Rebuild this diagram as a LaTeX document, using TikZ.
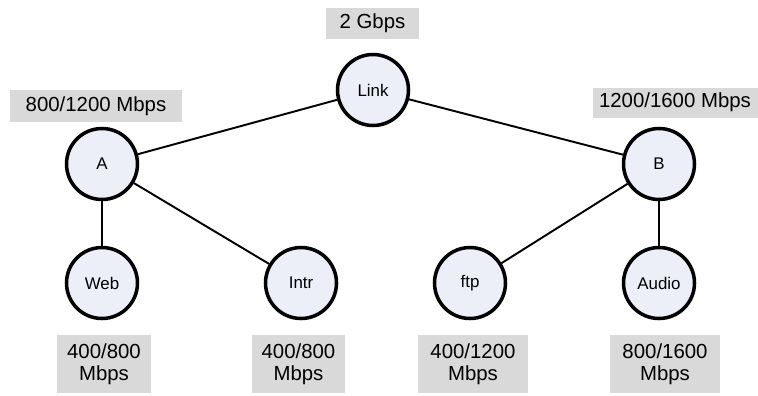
\documentclass[tikz,border=0pt]{standalone}
\usepackage{fontspec}
\setmainfont{Liberation Sans}
\definecolor{nodefill}{HTML}{ECEEF8}
\definecolor{labelgray}{HTML}{D9D9D9}
\begin{document}
\begin{tikzpicture}[
    hostnode/.style={circle, draw=black, line width=2pt, fill=nodefill, minimum size=1.42cm, inner sep=0pt, font=\fontsize{9.6}{11}\selectfont},
    ratebox/.style={rectangle, fill=labelgray, inner sep=0pt, align=center, font=\fontsize{11.6}{12.8}\selectfont},
    linkline/.style={line width=1.1pt},
]
\useasboundingbox (0,0) rectangle (15.16,7.9);

\node[ratebox, minimum width=1.86cm, minimum height=0.62cm] (rtop) at (7.45,7.43) {2 Gbps};
\node[ratebox, minimum width=3.44cm, minimum height=0.64cm] (ra) at (1.92,5.78) {800/1200 Mbps};
\node[ratebox, minimum width=3.3cm, minimum height=0.6cm] (rb) at (13.5,5.85) {1200/1600 Mbps};

\node[hostnode] (link) at (7.46,6.1) {Link};
\node[hostnode] (a) at (2.04,4.62) {A};
\node[hostnode] (b) at (13.18,4.62) {B};
\node[hostnode] (web) at (2.04,2.24) {Web};
\node[hostnode] (intr) at (6.02,2.24) {Intr};
\node[hostnode] (ftp) at (9.40,2.24) {ftp};
\node[hostnode] (audio) at (13.18,2.24) {Audio};

\draw[linkline] (link) -- (a);
\draw[linkline] (link) -- (b);
\draw[linkline] (a) -- (web);
\draw[linkline] (a) -- (intr);
\draw[linkline] (b) -- (ftp);
\draw[linkline] (b) -- (audio);

\node[ratebox, minimum width=1.88cm, minimum height=1.16cm] (rweb) at (2.08,0.62) {400/800\\Mbps};
\node[ratebox, minimum width=1.86cm, minimum height=1.16cm] (rintr) at (5.97,0.62) {400/800\\Mbps};
\node[ratebox, minimum width=2.2cm, minimum height=1.16cm] (rftp) at (9.46,0.62) {400/1200\\Mbps};
\node[ratebox, minimum width=2.2cm, minimum height=1.16cm] (raudio) at (13.3,0.62) {800/1600\\Mbps};
\end{tikzpicture}
\end{document}
